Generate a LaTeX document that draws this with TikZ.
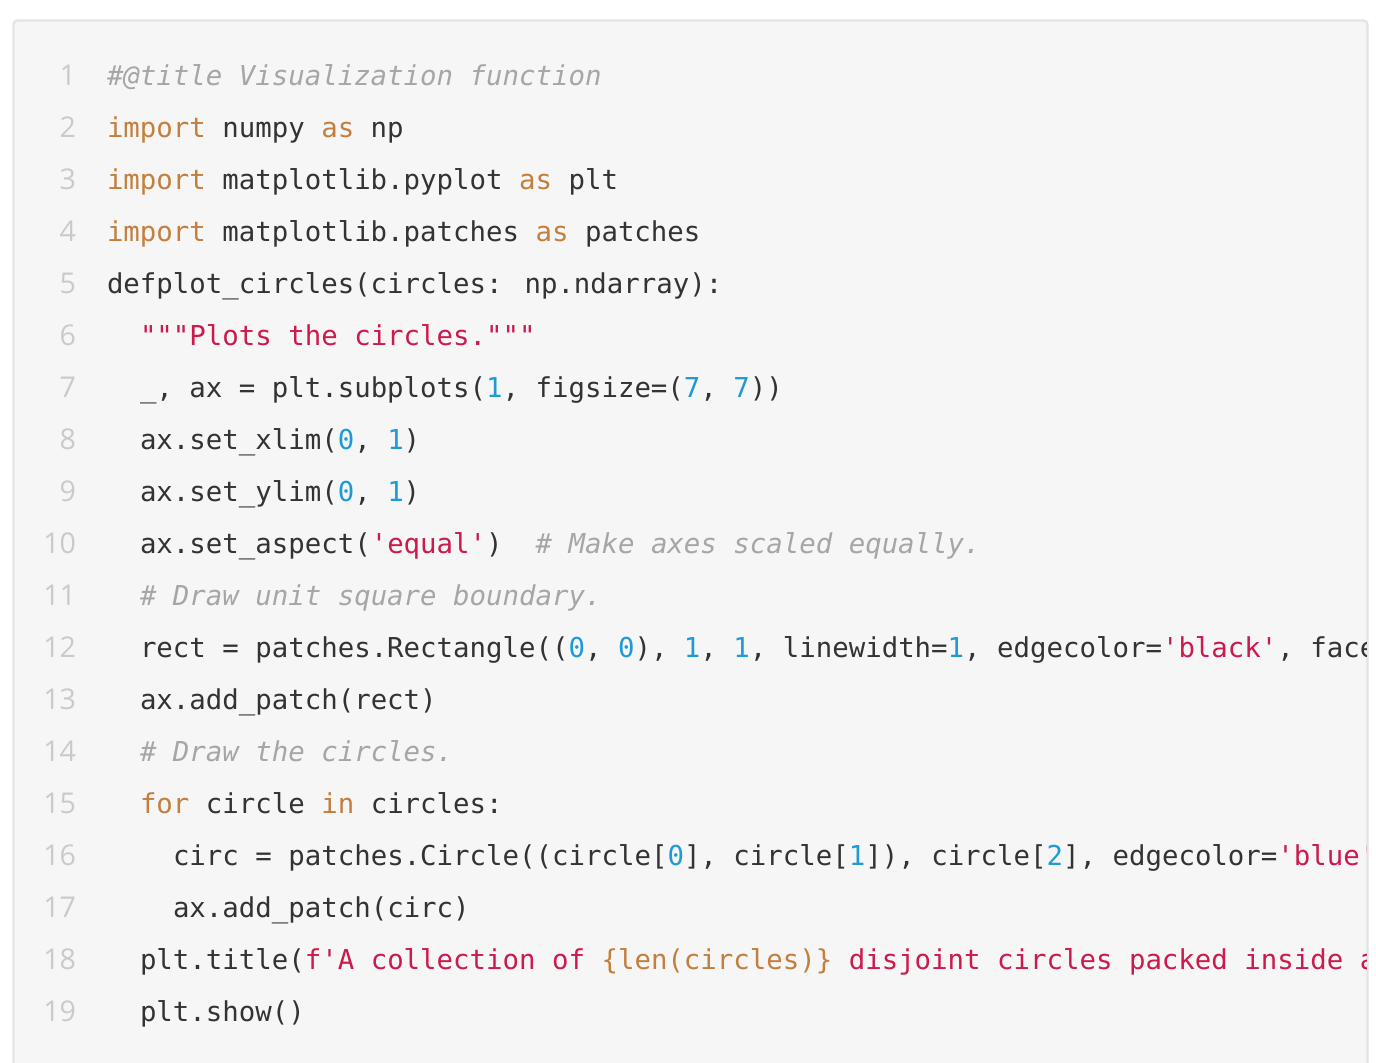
\documentclass[tikz,border=0pt]{standalone}
\usepackage{fontspec}
\newfontfamily\codefont{DejaVu Sans Mono}[Ligatures=TeXOff]
\newfontfamily\numfont{Open Sans}
\definecolor{codebg}{HTML}{F6F6F6}
\definecolor{codeborder}{HTML}{E4E4E4}
\definecolor{codetext}{HTML}{333333}
\definecolor{kwcol}{HTML}{C47F3E}
\definecolor{strcol}{HTML}{CC1A4C}
\definecolor{numcol}{HTML}{1E9BD7}
\definecolor{cmcol}{HTML}{A6A6A6}
\definecolor{lncol}{HTML}{CACACA}
\newcommand{\kw}[1]{\textcolor{kwcol}{#1}}
\newcommand{\st}[1]{\textcolor{strcol}{#1}}
\newcommand{\nm}[1]{\textcolor{numcol}{#1}}
\newcommand{\cm}[1]{\textcolor{cmcol}{\itshape #1}}
\begin{document}
\begin{tikzpicture}[x=0.5pt,y=-0.5pt,
  codeline/.style={anchor=base west,inner sep=0pt,outer sep=0pt,
    font=\codefont\fontsize{13.69pt}{16pt}\selectfont,text=codetext},
  linenum/.style={anchor=base east,inner sep=0pt,outer sep=0pt,
    font=\numfont\fontsize{14.3pt}{16pt}\selectfont,text=lncol}]
\useasboundingbox (0,0) rectangle (1376,1062);
\fill[white] (0,0) rectangle (1376,1062);
\draw[codeborder,fill=codebg,line width=1.2pt,rounded corners=2pt] (13.5,20.5) rectangle (1367.5,1080);
\begin{scope}
\clip (14,21) rectangle (1366.5,1062);
% line numbers
\node[linenum] (n1) at (76,85) {1};
\node[linenum] (n2) at (76,137) {2};
\node[linenum] (n3) at (76,189) {3};
\node[linenum] (n4) at (76,241) {4};
\node[linenum] (n5) at (76,293) {5};
\node[linenum] (n6) at (76,345) {6};
\node[linenum] (n7) at (76,397) {7};
\node[linenum] (n8) at (76,449) {8};
\node[linenum] (n9) at (76,501) {9};
\node[linenum] (n10) at (76,553) {10};
\node[linenum] (n11) at (76,605) {11};
\node[linenum] (n12) at (76,657) {12};
\node[linenum] (n13) at (76,709) {13};
\node[linenum] (n14) at (76,761) {14};
\node[linenum] (n15) at (76,813) {15};
\node[linenum] (n16) at (76,865) {16};
\node[linenum] (n17) at (76,917) {17};
\node[linenum] (n18) at (76,969) {18};
\node[linenum] (n19) at (76,1021) {19};
% code lines
\node[codeline] (l1) at (107,85) {\cm{\#@title Visualization function}};
\node[codeline] (l2) at (107,137) {\kw{import} numpy \kw{as} np};
\node[codeline] (l3) at (107,189) {\kw{import} matplotlib.pyplot \kw{as} plt};
\node[codeline] (l4) at (107,241) {\kw{import} matplotlib.patches \kw{as} patches};
\node[codeline] (l5) at (107,293) {defplot\_circles(circles: np.ndarray):};
\node[codeline] (l6) at (140,345) {\st{"""Plots the circles."""}};
\node[codeline] (l7) at (140,397) {\_, ax = plt.subplots(\nm{1}, figsize=(\nm{7}, \nm{7}))};
\node[codeline] (l8) at (140,449) {ax.set\_xlim(\nm{0}, \nm{1})};
\node[codeline] (l9) at (140,501) {ax.set\_ylim(\nm{0}, \nm{1})};
\node[codeline] (l10) at (140,553) {ax.set\_aspect(\st{'equal'})~~\cm{\# Make axes scaled equally.}};
\node[codeline] (l11) at (140,605) {\cm{\# Draw unit square boundary.}};
\node[codeline] (l12) at (140,657) {rect = patches.Rectangle((\nm{0}, \nm{0}), \nm{1}, \nm{1}, linewidth=\nm{1}, edgecolor=\st{'black'}, face};
\node[codeline] (l13) at (140,709) {ax.add\_patch(rect)};
\node[codeline] (l14) at (140,761) {\cm{\# Draw the circles.}};
\node[codeline] (l15) at (140,813) {\kw{for} circle \kw{in} circles:};
\node[codeline] (l16) at (173,865) {circ = patches.Circle((circle[\nm{0}], circle[\nm{1}]), circle[\nm{2}], edgecolor=\st{'blue'}};
\node[codeline] (l17) at (173,917) {ax.add\_patch(circ)};
\node[codeline] (l18) at (140,969) {plt.title(\st{f'A collection of~}\kw{\{len(circles)\}}\st{~disjoint circles packed inside a}};
\node[codeline] (l19) at (140,1021) {plt.show()};
\end{scope}
\end{tikzpicture}
\end{document}
